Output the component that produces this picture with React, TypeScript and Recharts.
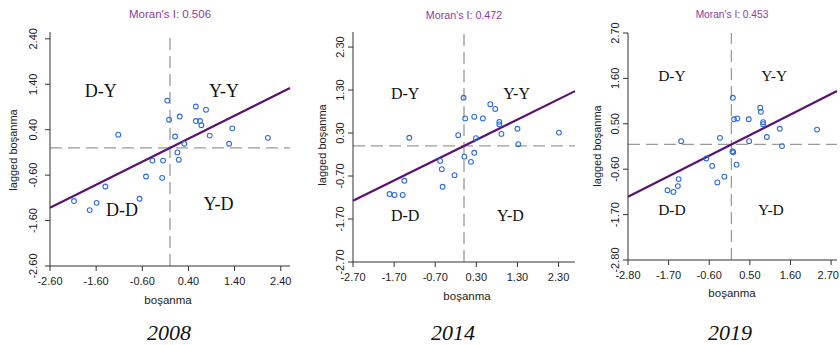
import React from 'react';
import { ScatterChart, Scatter, XAxis, YAxis, ReferenceLine } from 'recharts';

// values (standardised divorce rate vs spatial lag)
const years = ['2008', '2014', '2019'];
const moransI = [0.506, 0.472, 0.453];

const bosanma2008 = [-0.06, 0.56, 0.78, -0.02, 0.21, 0.56, 0.65, 0.68, 1.35, -1.12, 0.11, 0.86, 2.12, 1.28, 0.31, 0.16, 0.19, -0.38, -0.15, -0.52, -0.17, -1.4, -0.66, -2.08, -1.59, -1.74];
const lagged2008 = [1.04, 0.91, 0.84, 0.62, 0.69, 0.59, 0.59, 0.5, 0.43, 0.29, 0.25, 0.27, 0.22, 0.09, 0.09, -0.1, -0.26, -0.28, -0.28, -0.63, -0.66, -0.85, -1.12, -1.17, -1.21, -1.37];

const bosanma2014 = [-0.01, 0.64, 0.76, 0.03, 0.25, 0.46, 0.86, 0.86, 1.3, -1.33, -0.14, 0.29, 0.91, 2.31, 1.32, 0.25, 0.01, 0.17, -0.58, -0.54, -0.23, -0.52, -1.45, -1.81, -1.69, -1.49];
const lagged2014 = [1.12, 0.97, 0.86, 0.64, 0.68, 0.64, 0.56, 0.5, 0.4, 0.19, 0.25, 0.18, 0.28, 0.31, 0.04, -0.16, -0.25, -0.37, -0.35, -0.54, -0.68, -0.95, -0.81, -1.12, -1.14, -1.14];

const bosanma2019 = [0.04, 0.78, 0.8, 0.07, 0.16, 0.47, 0.86, 0.86, 1.31, 2.32, -1.36, -0.31, 0.48, 0.96, 1.37, 0.05, 0.03, -0.68, -0.52, 0.14, -0.19, -0.38, -1.43, -1.45, -1.73, -1.57];
const lagged2019 = [1.13, 0.89, 0.79, 0.61, 0.63, 0.61, 0.54, 0.49, 0.38, 0.36, 0.08, 0.16, 0.08, 0.18, -0.04, -0.19, -0.17, -0.34, -0.52, -0.49, -0.78, -0.92, -0.84, -1.01, -1.11, -1.15];

const ticks2008 = [-2.6, -1.6, -0.6, 0.4, 1.4, 2.4];
const ticks2014 = [-2.7, -1.7, -0.7, 0.3, 1.3, 2.3];
const ticks2019 = [-2.8, -1.7, -0.6, 0.5, 1.6, 2.7];

const quadNames = ['D-Y', 'Y-Y', 'D-D', 'Y-D'];

const zip = (xs: number[], ys: number[]) => xs.map((x, i) => ({ x, y: ys[i] }));

const panels = [
  {
    data: zip(bosanma2008, lagged2008), ticks: ticks2008,
    xDomain: [-2.6, 2.6], yDomain: [-2.6, 2.55],
    left: 0, width: 300, height: 300, axisW: 50, top: 32, right: 10,
    quad: [[-1.5, 1.26], [1.17, 1.26], [-1.04, -1.36], [1.05, -1.23]], quadSize: 18, titleSize: 11.5, yTickShift: 6,
    titleX: 170, xLab: [168, 301], yLab: [13, 150], yearX: 169,
  },
  {
    data: zip(bosanma2014, lagged2014), ticks: ticks2014,
    xDomain: [-2.7, 2.7], yDomain: [-2.7, 2.65],
    left: 300, width: 285, height: 296, axisW: 53, top: 32, right: 10,
    quad: [[-1.43, 1.22], [1.28, 1.22], [-1.43, -1.61], [1.13, -1.61]], quadSize: 16, titleSize: 10.7, yTickShift: 2,
    titleX: 464, xLab: [467, 297], yLab: [322, 145], yearX: 453,
  },
  {
    data: zip(bosanma2019, lagged2019), ticks: ticks2019,
    xDomain: [-2.8, 2.86], yDomain: [-2.8, 2.7],
    left: 585, width: 255, height: 294, axisW: 43, top: 33, right: 3,
    quad: [[-1.61, 1.68], [1.16, 1.68], [-1.61, -1.59], [1.07, -1.59]], quadSize: 15.5, titleSize: 10.2, yTickShift: 2,
    titleX: 732, xLab: [732, 294], yLab: [597, 146], yearX: 730,
  },
];

const sans = '"Liberation Sans", Arial, sans-serif';
const serif = '"Liberation Serif", "Times New Roman", serif';

const OpenCircle = (props: any) => (
  <circle cx={props.cx} cy={props.cy} r={2.4} fill="none" stroke="#2f6be0" strokeWidth={1.1} />
);

const RotTick = ({ x, y, payload, shift }: any) => (
  <text x={x - shift} y={y} transform={`rotate(-90 ${x - shift} ${y})`} textAnchor="middle" fontSize={11} fontFamily={sans} fill="#222">
    {Number(payload.value).toFixed(2)}
  </text>
);

// x tick label; keeps the last label inside the chart edge
const XTick = ({ x, y, payload, edge }: any) => {
  const tooFar = x + 12 > edge;
  return (
    <text x={tooFar ? edge - 1 : x} y={y} dy="0.71em" textAnchor={tooFar ? 'end' : 'middle'} fontSize={11} fontFamily={sans} fill="#222">
      {Number(payload.value).toFixed(2)}
    </text>
  );
};

const QuadText = (size: number) => (props: any) => (
  <text x={props.cx} y={props.cy} dy="0.35em" textAnchor="middle" fontSize={size} fontFamily={serif} fill="#111">
    {props.payload?.t ?? props.t}
  </text>
);

const abs = (x: number, y: number, extra: any = {}): React.CSSProperties => ({
  position: 'absolute', left: x, top: y, transform: 'translate(-50%, -50%)', whiteSpace: 'nowrap', lineHeight: 1, ...extra,
});

const MoranPanel = ({ p, I }: any) => {
  const quadData = p.quad.map((q: number[], i: number) => ({ x: q[0], y: q[1], t: quadNames[i] }));
  return (
    <div style={{ position: 'absolute', left: p.left, top: 0 }}>
      <ScatterChart width={p.width} height={p.height} margin={{ top: p.top, right: p.right, bottom: 0, left: 0 }}>
        <XAxis type="number" dataKey="x" domain={p.xDomain} ticks={p.ticks} allowDataOverflow height={34}
          tick={<XTick edge={p.width} />} stroke="#333" tickSize={5} tickMargin={6} interval={0} />
        <YAxis type="number" dataKey="y" domain={p.yDomain} ticks={p.ticks} allowDataOverflow width={p.axisW}
          tick={<RotTick shift={p.yTickShift} />} stroke="#333" tickSize={5} interval={0} />
        <ReferenceLine x={0} stroke="#9a9a9a" strokeWidth={1.3} strokeDasharray="12 6" />
        <ReferenceLine y={0} stroke="#9a9a9a" strokeWidth={1.3} strokeDasharray="12 6" />
        <Scatter data={quadData} shape={QuadText(p.quadSize)} isAnimationActive={false} />
        <Scatter data={p.data} shape={OpenCircle} isAnimationActive={false} />
        <ReferenceLine
          segment={[{ x: p.xDomain[0], y: p.xDomain[0] * I }, { x: p.xDomain[1], y: p.xDomain[1] * I }]}
          stroke="#5a1270" strokeWidth={2.2} />
      </ScatterChart>
    </div>
  );
};

export default function App() {
  return (
    <div style={{ position: 'absolute', left: 0, top: 0, width: 840, height: 345, background: '#fff', overflow: 'hidden' }}>
      {panels.map((p, i) => (
        <React.Fragment key={years[i]}>
          <MoranPanel p={p} I={moransI[i]} />
          <div style={abs(p.titleX, 15, { fontFamily: sans, fontSize: p.titleSize, color: '#8a3d9e' })}>
            {`Moran's I: ${moransI[i].toFixed(3)}`}
          </div>
          <div style={abs(p.xLab[0], p.xLab[1], { fontFamily: sans, fontSize: 11.5, color: '#222' })}>boşanma</div>
          <div style={abs(p.yLab[0], p.yLab[1], { fontFamily: sans, fontSize: 11, color: '#222', transform: 'translate(-50%, -50%) rotate(-90deg)' })}>
            lagged boşanma
          </div>
          <div style={abs(p.yearX, 333, { fontFamily: serif, fontStyle: 'italic', fontSize: 22, color: '#111' })}>{years[i]}</div>
        </React.Fragment>
      ))}
    </div>
  );
}
